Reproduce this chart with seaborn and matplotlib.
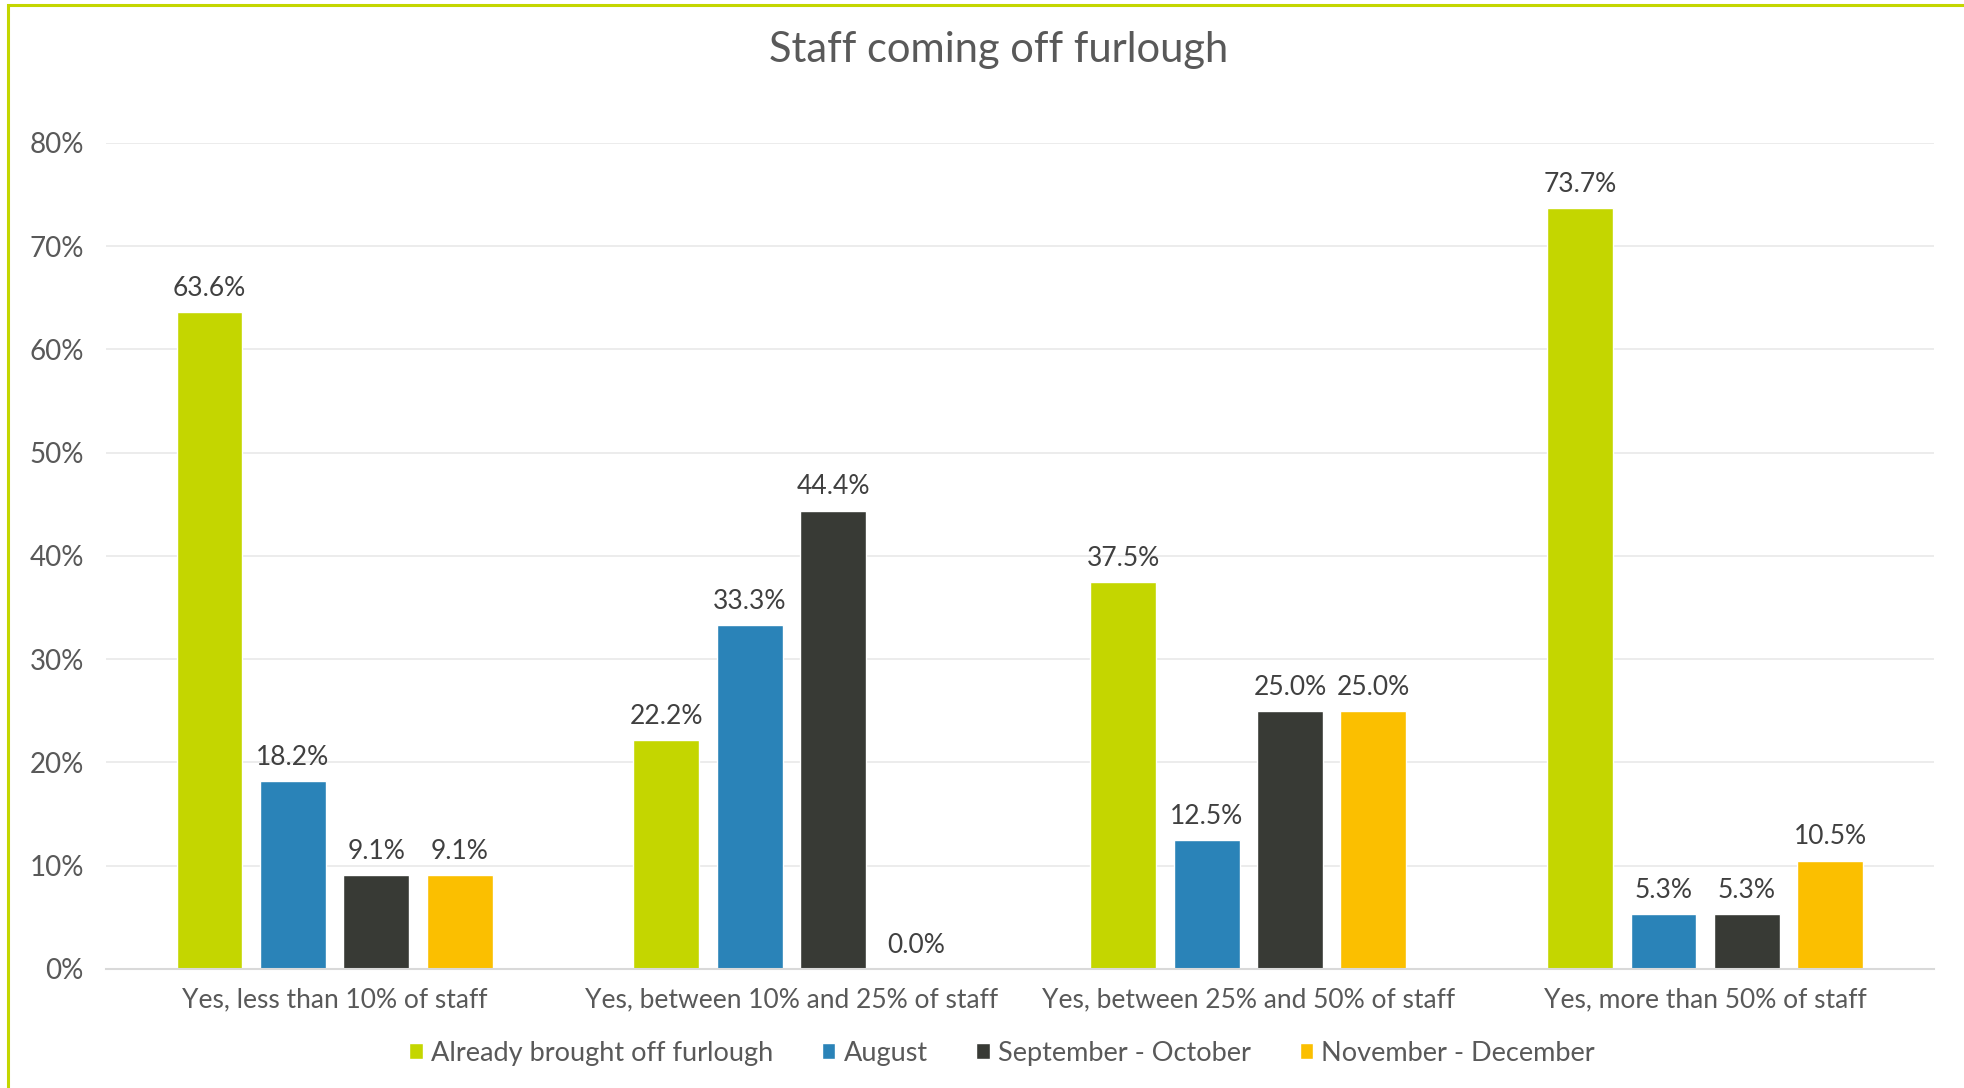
import pandas as pd
import matplotlib
matplotlib.use('Agg')
import matplotlib.pyplot as plt
from matplotlib.patches import Rectangle
from matplotlib.ticker import FuncFormatter, FixedLocator
import seaborn as sns

categories = ['Yes, less than 10% of staff', 'Yes, between 10% and 25% of staff',
              'Yes, between 25% and 50% of staff', 'Yes, more than 50% of staff']
series = ['Already brought off furlough', 'August', 'September - October', 'November - December']
already = [63.6, 22.2, 37.5, 73.7]
august = [18.2, 33.3, 12.5, 5.3]
sep_oct = [9.1, 44.4, 25.0, 5.3]
nov_dec = [9.1, 0.0, 25.0, 10.5]
colors = ['#C4D600', '#2A83B8', '#383A35', '#FBBF00']

rows = []
for name, vals in zip(series, [already, august, sep_oct, nov_dec]):
	for cat, v in zip(categories, vals):
		rows.append({'category': cat, 'series': name, 'value': v})
df = pd.DataFrame(rows)

sns.set_theme(style='white')
plt.rcParams['font.family'] = ['Lato', 'DejaVu Sans']
text_color = '#595959'

fig = plt.figure(figsize=(19.65, 10.88), dpi=100)
ax = fig.add_axes([0.054, 0.1094, 0.930, 0.7592])

sns.barplot(data=df, x='category', y='value', hue='series', palette=colors,
	width=0.73, gap=0.21, saturation=1, ax=ax, legend=True)

for cont in ax.containers:
	ax.bar_label(cont, fmt='%.1f%%', padding=8, fontsize=19, color='#404040')

ax.set_ylim(0, 80)
ax.set_xlim(-0.5, 3.5)
ax.yaxis.set_major_formatter(FuncFormatter(lambda v, p: '%d%%' % v))
ax.set_yticks(range(0, 81, 10))
ax.grid(axis='y', color='#EBEBEB', linewidth=1.3)
ax.set_axisbelow(True)
for s in ['top', 'right', 'left']:
	ax.spines[s].set_visible(False)
ax.spines['bottom'].set_color('#D9D9D9')
ax.spines['bottom'].set_linewidth(1.5)
ax.set_xlabel('')
ax.set_ylabel('')
ax.tick_params(axis='y', length=0, labelsize=20, labelcolor=text_color, pad=16)
ax.tick_params(axis='x', which='major', length=0, labelsize=19, labelcolor=text_color, pad=13)
ax.xaxis.set_minor_locator(FixedLocator([-0.5, 0.5, 1.5, 2.5, 3.5]))
ax.tick_params(axis='x', which='minor', length=8, color='#D9D9D9', width=1.5)

fig.text(0.508, 0.954, 'Staff coming off furlough', fontsize=30, color=text_color,
	ha='center', va='center')

handles, labels = ax.get_legend_handles_labels()
ax.legend_.remove()
fig.legend(handles, labels, loc='center', bbox_to_anchor=(0.51, 0.032), ncol=4,
	frameon=False, fontsize=19.5, labelcolor=text_color, handlelength=0.5,
	handleheight=0.5, handletextpad=0.3, columnspacing=1.8)

fig.patches.append(Rectangle((8 / 1965, -0.1), 2.0, 1.1 - 5 / 1088, transform=fig.transFigure,
	fill=False, edgecolor='#C4D600', linewidth=2.2, zorder=10))

fig.savefig('out.png', dpi=100)
